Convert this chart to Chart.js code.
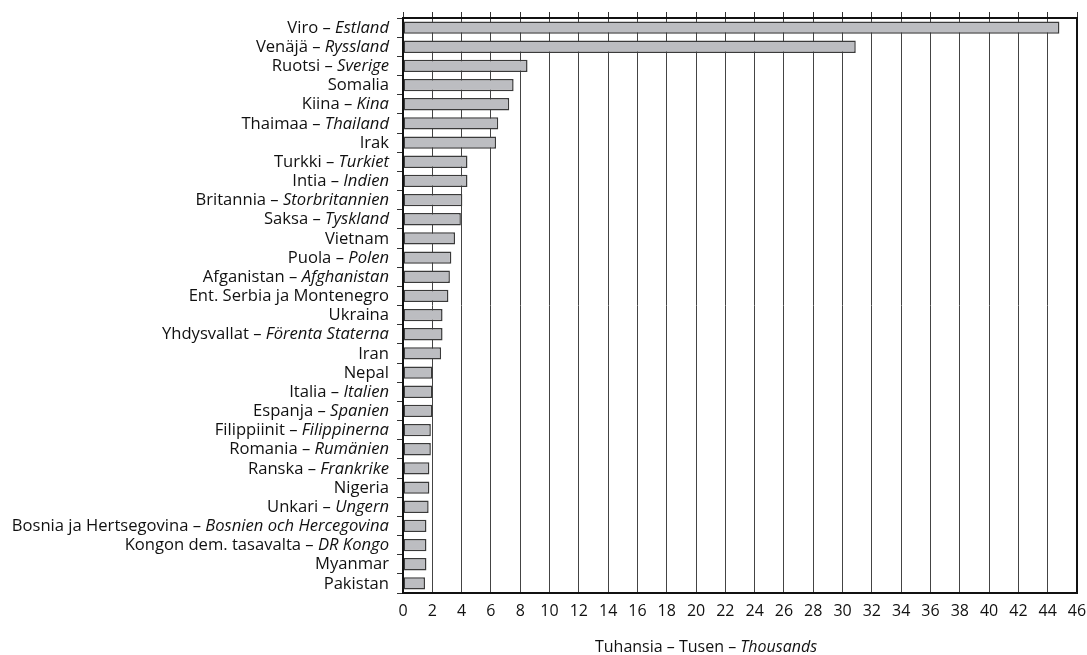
<!DOCTYPE html>
<html>
<head>
<meta charset="utf-8">
<script src="https://cdn.jsdelivr.net/npm/chart.js@4/dist/chart.umd.min.js"></script>
<style>
  html, body { margin: 0; padding: 0; background: #fff; }
  #wrap { width: 1087px; height: 655px; position: relative; }
</style>
</head>
<body>
<div id="wrap"><canvas id="chart"></canvas></div>
<script>
// Finnish names (normal) and Swedish names (italic, empty = same as Finnish)
const fiNames = [
  "Viro", "Venäjä", "Ruotsi", "Somalia", "Kiina", "Thaimaa", "Irak", "Turkki",
  "Intia", "Britannia", "Saksa", "Vietnam", "Puola", "Afganistan",
  "Ent. Serbia ja Montenegro", "Ukraina", "Yhdysvallat", "Iran", "Nepal",
  "Italia", "Espanja", "Filippiinit", "Romania", "Ranska", "Nigeria", "Unkari",
  "Bosnia ja Hertsegovina", "Kongon dem. tasavalta", "Myanmar", "Pakistan"
];
const svNames = [
  "Estland", "Ryssland", "Sverige", "", "Kina", "Thailand", "", "Turkiet",
  "Indien", "Storbritannien", "Tyskland", "", "Polen", "Afghanistan",
  "", "", "Förenta Staterna", "", "",
  "Italien", "Spanien", "Filippinerna", "Rumänien", "Frankrike", "", "Ungern",
  "Bosnien och Hercegovina", "DR Kongo", "", ""
];
// thousands
const values = [
  44.8, 30.9, 8.5, 7.55, 7.25, 6.5, 6.35, 4.4,
  4.4, 4.05, 3.95, 3.55, 3.3, 3.2,
  3.1, 2.7, 2.7, 2.6, 2.0,
  2.0, 2.0, 1.9, 1.9, 1.8, 1.8, 1.75,
  1.6, 1.6, 1.6, 1.5
];
const xMin = 0, xMax = 46, xStep = 2;
const axisTitle = ["Tuhansia – Tusen – ", "Thousands"];

const FONT = "'Open Sans', 'DejaVu Sans', sans-serif";
const TXT = "#111";

// y labels with italic Swedish part
const labelPlugin = {
  id: "mixedLabels",
  afterDraw(chart) {
    const ctx = chart.ctx;
    const y = chart.scales.y;
    const right = chart.chartArea.left - 14;
    ctx.save();
    ctx.fillStyle = TXT;
    ctx.textBaseline = "middle";
    fiNames.forEach((fi, i) => {
      const py = y.getPixelForValue(i) + 0.5;
      const sv = svNames[i];
      let x = right;
      ctx.textAlign = "right";
      if (sv) {
        ctx.font = "italic 16.6px " + FONT;
        ctx.fillText(sv, x, py);
        x -= ctx.measureText(sv).width;
        ctx.font = "16.6px " + FONT;
        ctx.fillText(fi + " – ", x, py);
      } else {
        ctx.font = "16.6px " + FONT;
        ctx.fillText(fi, x, py);
      }
    });
    // axis title
    ctx.textAlign = "left";
    ctx.font = "16px " + FONT;
    const w1 = ctx.measureText(axisTitle[0]).width;
    ctx.font = "italic 16px " + FONT;
    const w2 = ctx.measureText(axisTitle[1]).width;
    let tx = 706 - (w1 + w2) / 2;
    ctx.font = "16px " + FONT;
    ctx.fillText(axisTitle[0], tx, 647);
    ctx.font = "italic 16px " + FONT;
    ctx.fillText(axisTitle[1], tx + w1, 647);
    ctx.restore();
  }
};

// heavy frame around the plot
const framePlugin = {
  id: "frame",
  afterDatasetsDraw(chart) {
    const a = chart.chartArea;
    const ctx = chart.ctx;
    ctx.save();
    ctx.strokeStyle = "#111";
    ctx.lineWidth = 2;
    ctx.strokeRect(a.left, a.top, a.right - a.left, a.bottom - a.top);
    ctx.restore();
  }
};

const noPad = s => { s.paddingLeft = 0; s.paddingRight = 0; s.paddingTop = 0; s.paddingBottom = 0; };

new Chart(document.getElementById("chart"), {
  type: "bar",
  data: {
    labels: fiNames,
    datasets: [{
      data: values,
      backgroundColor: "#bcbdc1",
      borderColor: "#3a3a3a",
      borderWidth: 1.5,
      borderSkipped: false,
      barPercentage: 0.7,
      categoryPercentage: 0.92
    }]
  },
  options: {
    indexAxis: "y",
    responsive: true,
    maintainAspectRatio: false,
    animation: false,
    layout: { padding: { left: 0, right: 10, top: 0, bottom: 0 } },
    plugins: { legend: { display: false }, tooltip: { enabled: false } },
    scales: {
      x: {
        type: "linear",
        position: "bottom",
        min: xMin, max: xMax,
        ticks: { stepSize: xStep, color: TXT, font: { size: 16, family: FONT }, padding: 9 },
        grid: { color: "#444", lineWidth: 1, drawTicks: false },
        border: { display: false },
        afterFit: s => { s.height = 62; noPad(s); }
      },
      xTop: {
        type: "linear",
        position: "top",
        min: xMin, max: xMax,
        ticks: { stepSize: xStep, display: false },
        grid: { drawOnChartArea: false, drawTicks: true, tickLength: 6, color: "#333" },
        border: { display: false },
        afterFit: s => { s.height = 18; noPad(s); }
      },
      y: {
        type: "category",
        ticks: { display: false },
        grid: { offset: true, drawOnChartArea: false, drawTicks: true, tickLength: 6, color: "#333" },
        border: { display: false },
        afterFit: s => { s.width = 403; noPad(s); }
      }
    }
  },
  plugins: [framePlugin, labelPlugin]
});
</script>
</body>
</html>
